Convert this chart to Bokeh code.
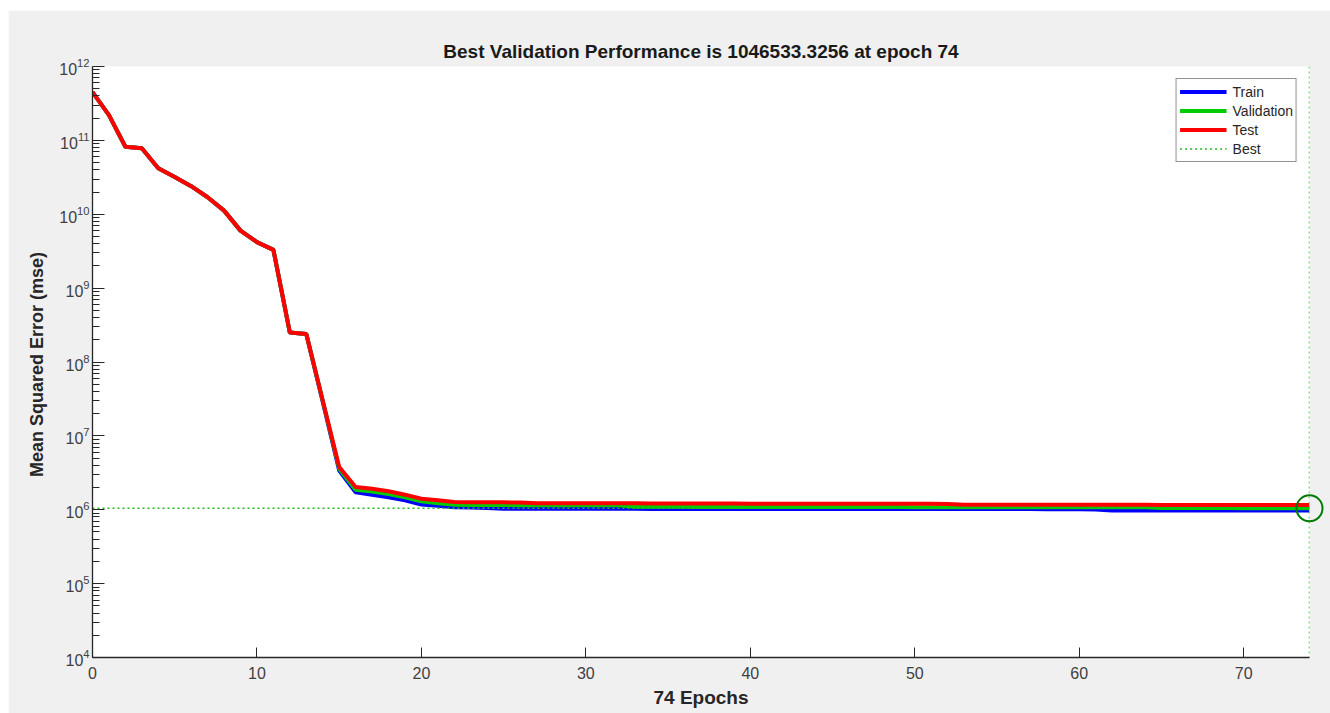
from bokeh.plotting import figure
from bokeh.models import FixedTicker, Span, Legend, LegendItem
from bokeh.embed import file_html
from bokeh.resources import INLINE

epochs = list(range(75))

train = [4.5e11, 2.2e11, 8.2e10, 7.8e10, 4.2e10, 3.2e10, 2.4e10, 1.7e10, 1.12e10, 6.0e9,
         4.2e9, 3.3e9, 2.5e8, 2.4e8, 2.9e7, 3.4e6, 1.72e6, 1.6e6, 1.48e6, 1.34e6,
         1.18e6, 1.13e6, 1.08e6, 1.07e6, 1.06e6, 1.035e6, 1.03e6, 1.03e6, 1.03e6, 1.03e6,
         1.03e6, 1.03e6, 1.03e6, 1.03e6, 1.025e6, 1.025e6, 1.025e6, 1.025e6, 1.025e6, 1.025e6,
         1.025e6, 1.025e6, 1.02e6, 1.02e6, 1.02e6, 1.02e6, 1.02e6, 1.02e6, 1.02e6, 1.02e6,
         1.02e6, 1.02e6, 1.02e6, 1.02e6, 1.02e6, 1.02e6, 1.02e6, 1.02e6, 1.015e6, 1.015e6,
         1.015e6, 1.01e6, 0.98e6, 0.98e6, 0.98e6, 0.98e6, 0.98e6, 0.98e6, 0.98e6, 0.98e6,
         0.978e6, 0.978e6, 0.978e6, 0.978e6, 0.978e6]

validation = [4.5e11, 2.2e11, 8.2e10, 7.8e10, 4.2e10, 3.2e10, 2.4e10, 1.7e10, 1.12e10, 6.0e9,
              4.2e9, 3.3e9, 2.5e8, 2.4e8, 3.0e7, 3.6e6, 1.86e6, 1.76e6, 1.63e6, 1.47e6,
              1.3e6, 1.22e6, 1.17e6, 1.16e6, 1.16e6, 1.16e6, 1.155e6, 1.155e6, 1.155e6, 1.15e6,
              1.15e6, 1.15e6, 1.15e6, 1.1e6, 1.095e6, 1.095e6, 1.095e6, 1.09e6, 1.09e6, 1.09e6,
              1.09e6, 1.09e6, 1.09e6, 1.09e6, 1.09e6, 1.09e6, 1.09e6, 1.09e6, 1.09e6, 1.09e6,
              1.085e6, 1.085e6, 1.085e6, 1.085e6, 1.085e6, 1.085e6, 1.085e6, 1.085e6, 1.085e6, 1.085e6,
              1.08e6, 1.08e6, 1.08e6, 1.08e6, 1.08e6, 1.06e6, 1.06e6, 1.055e6, 1.055e6, 1.055e6,
              1.05e6, 1.05e6, 1.05e6, 1.048e6, 1046533.3256]

test = [4.5e11, 2.2e11, 8.2e10, 7.8e10, 4.2e10, 3.2e10, 2.4e10, 1.7e10, 1.12e10, 6.0e9,
        4.2e9, 3.3e9, 2.5e8, 2.4e8, 3.0e7, 3.8e6, 2.03e6, 1.92e6, 1.78e6, 1.6e6,
        1.41e6, 1.34e6, 1.27e6, 1.26e6, 1.26e6, 1.26e6, 1.25e6, 1.22e6, 1.22e6, 1.22e6,
        1.22e6, 1.22e6, 1.22e6, 1.22e6, 1.215e6, 1.215e6, 1.215e6, 1.215e6, 1.215e6, 1.215e6,
        1.21e6, 1.21e6, 1.21e6, 1.21e6, 1.21e6, 1.21e6, 1.21e6, 1.21e6, 1.21e6, 1.21e6,
        1.21e6, 1.21e6, 1.2e6, 1.17e6, 1.17e6, 1.17e6, 1.17e6, 1.17e6, 1.17e6, 1.165e6,
        1.165e6, 1.165e6, 1.165e6, 1.165e6, 1.165e6, 1.16e6, 1.16e6, 1.16e6, 1.16e6, 1.16e6,
        1.16e6, 1.16e6, 1.16e6, 1.16e6, 1.16e6]

best_epoch = 74
best_perf = 1046533.3256

x_ticks = [0, 10, 20, 30, 40, 50, 60, 70]
y_ticks = [1e4, 1e5, 1e6, 1e7, 1e8, 1e9, 1e10, 1e11, 1e12]
y_minor = [m * 10.0 ** k for k in range(4, 12) for m in range(2, 10)]

FONT = "Liberation Sans"
AX = "#262626"

p = figure(width=1322, height=703, y_axis_type="log", x_range=(0, 74), y_range=(1e4, 1e12),
           output_backend="svg", toolbar_location=None,
           title=f"Best Validation Performance is {best_perf:.4f} at epoch {best_epoch}",
           min_border_left=84, min_border_right=21, min_border_top=56, min_border_bottom=56)
p.margin = (10, 0, 0, 8)
p.background_fill_color = "white"
p.border_fill_color = "#f0f0f0"
p.outline_line_color = None
p.grid.visible = False

p.title.align = "center"
p.title.text_font = FONT
p.title.text_font_size = "19px"
p.title.text_font_style = "bold"
p.title.text_color = "#1a1a1a"
p.title.standoff = 9

p.xaxis.ticker = FixedTicker(ticks=x_ticks)
p.yaxis.ticker = FixedTicker(ticks=y_ticks, minor_ticks=y_minor)
p.xaxis.axis_label = f"{best_epoch} Epochs"
p.yaxis.axis_label = "Mean Squared Error  (mse)"
for ax in (p.xaxis, p.yaxis):
    ax.axis_line_color = AX
    ax.axis_line_width = 1.3
    ax.major_tick_line_color = AX
    ax.minor_tick_line_color = AX
    ax.major_tick_out = 0
    ax.minor_tick_out = 0
    ax.major_label_text_font = FONT
    ax.major_label_text_font_size = "16px"
    ax.major_label_text_color = "#404040"
    ax.axis_label_text_font = FONT
    ax.axis_label_text_font_style = "bold"
    ax.axis_label_text_color = "#262626"
p.xaxis.axis_label_text_font_size = "19px"
p.yaxis.axis_label_text_font_size = "18px"
p.xaxis.major_tick_in = 10
p.xaxis.minor_tick_in = 0
p.xaxis.major_label_standoff = 9
p.xaxis.axis_label_standoff = 5
p.yaxis.major_tick_in = 12
p.yaxis.minor_tick_in = 7
p.yaxis.major_label_standoff = 3
p.yaxis.axis_label_standoff = 9

r_train = p.line(epochs, train, line_color="#0000ff", line_width=4)
r_val = p.line(epochs, validation, line_color="#00cc00", line_width=4)
r_test = p.line(epochs, test, line_color="#ff0000", line_width=4)
r_best = p.line([0, best_epoch], [best_perf, best_perf], line_color="#22bb22",
                line_width=1.5, line_dash="2 3")
p.add_layout(Span(location=best_epoch, dimension="height", line_color="#22bb22",
                  line_width=1.5, line_dash="2 3"))
p.scatter([best_epoch], [best_perf], marker="circle", size=26, fill_color=None,
          line_color="#007a00", line_width=2, level="overlay")

legend = Legend(items=[LegendItem(label="Train", renderers=[r_train]),
                       LegendItem(label="Validation", renderers=[r_val]),
                       LegendItem(label="Test", renderers=[r_test]),
                       LegendItem(label="Best", renderers=[r_best])],
                location="top_right")
legend.margin = 12
legend.padding = 3
legend.spacing = 0
legend.glyph_width = 47
legend.glyph_height = 19
legend.label_height = 19
legend.label_standoff = 6
legend.label_text_font = FONT
legend.label_text_font_size = "14px"
legend.label_text_color = "#262626"
legend.border_line_color = AX
legend.border_line_width = 1
legend.background_fill_color = "white"
legend.background_fill_alpha = 1
p.add_layout(legend)

open("out.html", "w").write(file_html(p, INLINE))
